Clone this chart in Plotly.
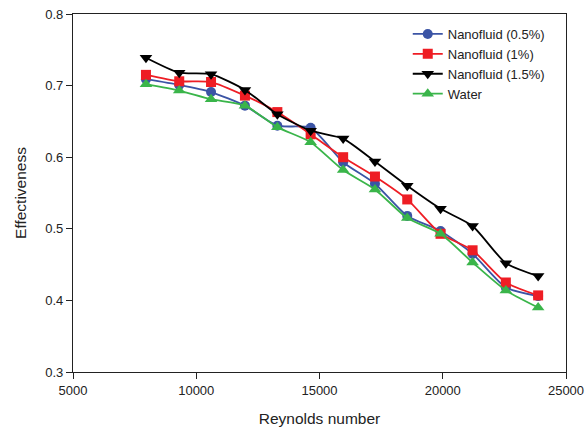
import plotly.graph_objects as go

# Reynolds numbers at which effectiveness was measured
reynolds = [7960, 9310, 10600, 11975, 13290, 14640, 15960, 17250, 18560, 19910, 21210, 22560, 23870]

# Effectiveness for each working fluid
nf_05 = [0.709, 0.701, 0.691, 0.672, 0.644, 0.641, 0.593, 0.563, 0.518, 0.497, 0.465, 0.418, 0.406]
nf_1 = [0.715, 0.706, 0.705, 0.686, 0.663, 0.632, 0.600, 0.573, 0.541, 0.493, 0.470, 0.425, 0.407]
nf_15 = [0.739, 0.718, 0.716, 0.694, 0.660, 0.637, 0.626, 0.594, 0.560, 0.528, 0.504, 0.452, 0.434]
water = [0.702, 0.693, 0.681, 0.672, 0.642, 0.621, 0.582, 0.555, 0.515, 0.493, 0.453, 0.414, 0.390]

# Axis ticks
x_ticks = [5000, 10000, 15000, 20000, 25000]
x_tick_labels = ["5000", "10000", "15000", "20000", "25000"]
y_ticks = [0.3, 0.4, 0.5, 0.6, 0.7, 0.8]
y_tick_labels = ["0.3", "0.4", "0.5", "0.6", "0.7", "0.8"]

series = [
    ("Nanofluid (0.5%)", nf_05, "#3B54A5", "circle", 10),
    ("Nanofluid (1%)", nf_1, "#EE1D24", "square", 10),
    ("Nanofluid (1.5%)", nf_15, "#000000", "triangle-down", 11),
    ("Water", water, "#3AB54A", "triangle-up", 11),
]

fig = go.Figure()
for name, vals, color, symbol, size in series:
    fig.add_trace(go.Scatter(
        x=reynolds, y=vals, name=name, mode="lines+markers",
        line=dict(color=color, width=1.8, shape="spline", smoothing=0.6),
        marker=dict(symbol=symbol, size=size, color=color),
    ))

font_family = "Liberation Sans, Arial, sans-serif"
axis_common = dict(
    showline=True, linecolor="#222", linewidth=1.2, mirror=True,
    ticks="outside", ticklen=6, tickwidth=1.2, tickcolor="#222",
    showgrid=False, zeroline=False, automargin=False,
    tickfont=dict(family=font_family, size=13, color="#222"),
)

fig.update_layout(
    width=586, height=433,
    margin=dict(l=73, r=20, t=14, b=61),
    paper_bgcolor="white", plot_bgcolor="white",
    font=dict(family=font_family, color="#222"),
    xaxis=dict(range=[5000, 25000], tickmode="array", tickvals=x_ticks, ticktext=x_tick_labels,
               title=dict(text="Reynolds number", font=dict(size=15.5), standoff=16),
               **axis_common),
    yaxis=dict(range=[0.3, 0.8], tickmode="array", tickvals=y_ticks, ticktext=y_tick_labels,
               title=dict(text="Effectiveness", font=dict(size=15.5), standoff=14),
               **axis_common),
    legend=dict(x=0.679, y=0.986, xanchor="left", yanchor="top",
                bgcolor="rgba(0,0,0,0)", font=dict(size=13, family=font_family, color="#222"),
                tracegroupgap=0),
    showlegend=True,
)

fig.write_html("out.html")
